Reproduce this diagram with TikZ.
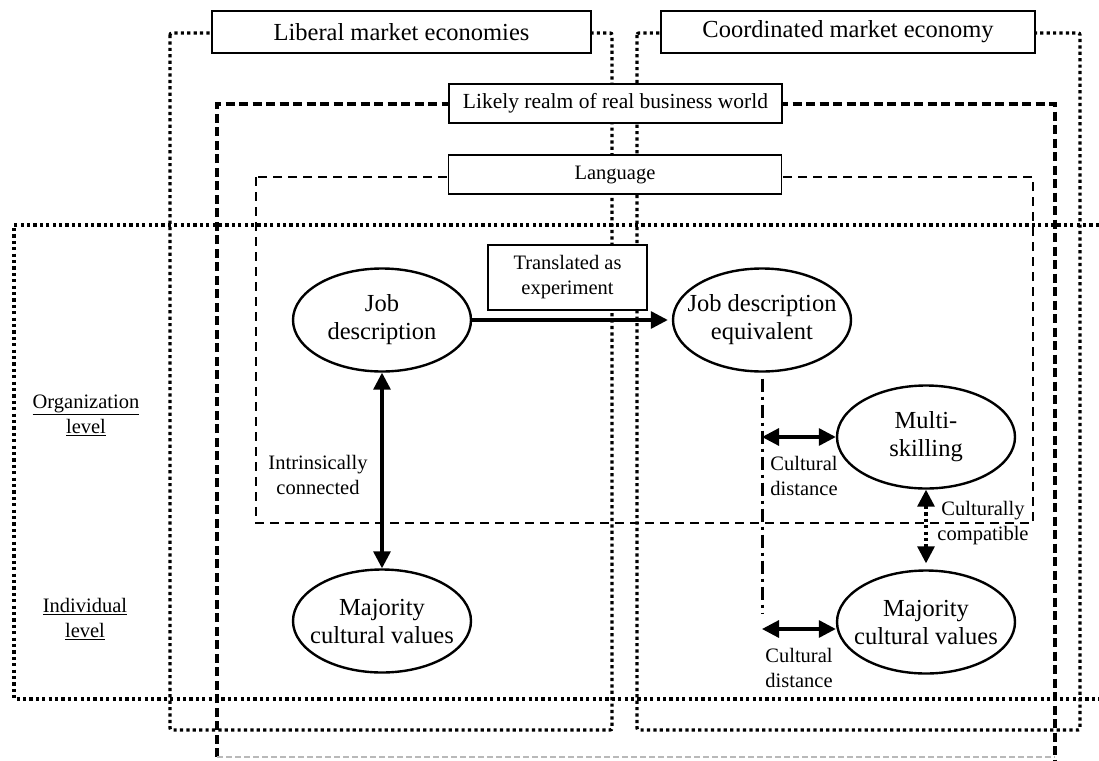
\documentclass[tikz,border=0pt]{standalone}
\usepackage{fontspec}
\setmainfont{Liberation Serif}
\usetikzlibrary{shapes.geometric,arrows.meta}

\begin{document}
\begin{tikzpicture}[x=1pt,y=-1pt,
  >={Triangle[length=17pt,width=17pt]},
  bigtxt/.style={font=\fontsize{24.5}{28}\selectfont, align=center, inner sep=0pt},
  smalltxt/.style={font=\fontsize{20.5}{25}\selectfont, align=center, inner sep=0pt},
  titlebox/.style={draw, fill=white, line width=1.5pt, inner sep=0pt, minimum height=42pt},
  subbox/.style={draw, fill=white, line width=1.5pt, inner sep=0pt, minimum height=39pt, minimum width=333pt},
  oval/.style={ellipse, draw, line width=2.4pt, minimum width=178pt, minimum height=103pt, inner sep=0pt},
  dotframe/.style={line width=3.3pt, dash pattern=on 3.2pt off 3.2pt},
  realmframe/.style={line width=3.6pt, dash pattern=on 9pt off 4.5pt},
  langframe/.style={line width=2pt, dash pattern=on 9pt off 6pt},
  dashdotline/.style={line width=3pt, dash pattern=on 13pt off 5pt on 3pt off 5pt},
  link/.style={line width=3.2pt, <->},
]
\useasboundingbox (0,0) rectangle (1099,760);

% economy frames
\draw[dotframe, rounded corners=2pt] (170,33) rectangle (612,730);
\draw[dotframe, rounded corners=2pt] (637,33) rectangle (1080,730);
% level frame, open to the right
\draw[dotframe] (1099,225) -- (14,225) -- (14,699) -- (1099,699);
% realm of business world
\draw[realmframe] (217,757) -- (217,104) -- (1055,104) -- (1055,760);
\draw[gray!55, line width=1.5pt, dash pattern=on 6pt off 3pt] (217,757) -- (1055,757);
% language frame
\draw[langframe] (256,177) rectangle (1033,523);

% frame titles
\node[titlebox, minimum width=379pt, bigtxt] (lme) at (401.5,32) {Liberal market economies};
\node[titlebox, minimum width=374pt, bigtxt] (cme) at (848,32) {Coordinated market economy};
\node[subbox, font=\fontsize{21.5}{25}\selectfont] (realm) at (615.5,103.5) {Likely realm of real business world};
\node[subbox, smalltxt] (lang) at (615,174.5) {Language};
\node[draw, fill=white, line width=2.6pt, minimum width=159pt, minimum height=65pt, smalltxt] (tr) at (567.5,277.5) {Translated as\\experiment};

% concepts
\node[oval, label={[bigtxt]center:{Job\\description}}] (jd) at (382,320) {};
\node[oval, label={[bigtxt]center:{Job description\\equivalent}}] (jde) at (762,320) {};
\node[oval, label={[bigtxt]center:{Multi-\\skilling}}] (ms) at (926,437) {};
\node[oval, label={[bigtxt]center:{Majority\\cultural values}}] (mj1) at (382,621) {};
\node[oval, label={[bigtxt]center:{Majority\\cultural values}}] (mj2) at (926,622) {};

\coordinate (dd) at (762,613);
\coordinate (c1) at (762,437);
\coordinate (c2) at (762,629);

% connectors
\draw[line width=3.2pt, ->, shorten >=4pt] (jd.east) -- (jde.west);
\draw[link] (jd.south) -- (mj1.north);
\draw[dashdotline, shorten <=6pt] (jde.south) -- (dd);
\draw[link] (c1) -- (ms.west);
\draw[link] (c2) -- (c2 -| mj2.west);
\draw[link, dash pattern=on 3.2pt off 3.2pt, shorten >=6pt] (ms.south) -- (mj2.north);

% connector labels
\node[smalltxt] (lblI) at (318,474.5) {Intrinsically\\connected};
\node[smalltxt] (lblC1) at (804,476) {Cultural\\distance};
\node[smalltxt] (lblC2) at (799,667.5) {Cultural\\distance};
\node[smalltxt] (lblCC) at (983,523.5) {Culturally\\compatible};

% level labels
\node[smalltxt] (org) at (86,415) {\underline{Organization}\\\underline{level}};
\node[smalltxt] (ind) at (85,619) {\underline{Individual}\\\underline{level}};
\end{tikzpicture}
\end{document}
